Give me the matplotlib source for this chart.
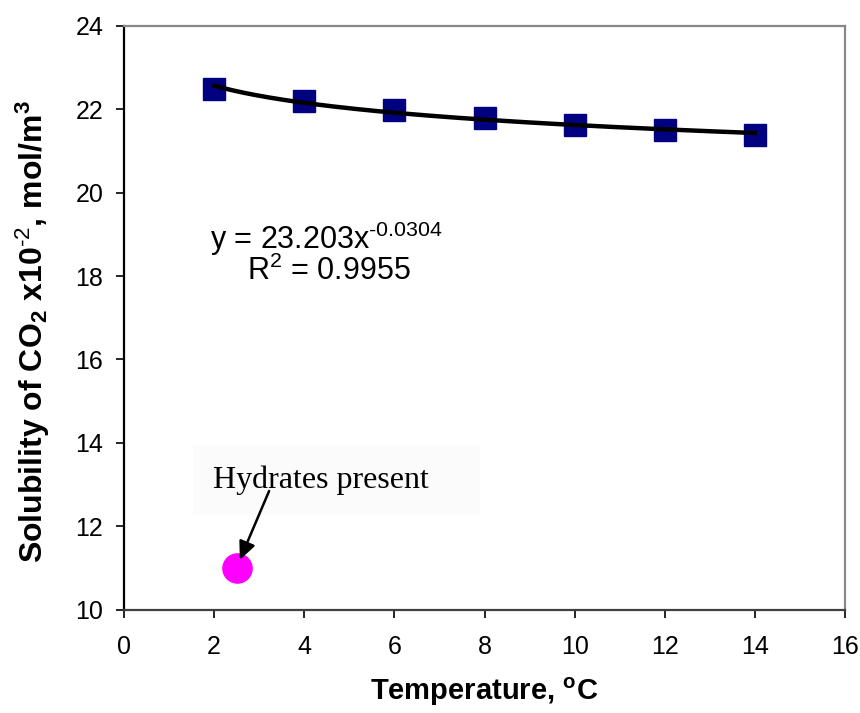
import numpy as np
import matplotlib
matplotlib.use("Agg")
import matplotlib.pyplot as plt
from matplotlib.patches import Rectangle

plt.rcParams["font.family"] = ["Liberation Sans", "DejaVu Sans"]
plt.rcParams["mathtext.fontset"] = "custom"
plt.rcParams["mathtext.rm"] = "Liberation Sans"
plt.rcParams["mathtext.bf"] = "Liberation Sans:bold"
plt.rcParams["mathtext.default"] = "regular"

# measured solubility (x10^-2 mol/m3) against temperature
temperature = [2, 4, 6, 8, 10, 12, 14]
solubility = [22.49, 22.20, 21.97, 21.78, 21.62, 21.49, 21.37]

# single point where hydrates formed
hydrate_t = [2.5]
hydrate_s = [11.0]

x_ticks = [0, 2, 4, 6, 8, 10, 12, 14, 16]
y_ticks = [10, 12, 14, 16, 18, 20, 22, 24]

fig = plt.figure(figsize=(8.6, 7.13), dpi=100)
ax = fig.add_axes([0.1442, 0.1445, 0.8384, 0.8197])

# power-law trend line fitted in log space
b, ln_a = np.polyfit(np.log(temperature), np.log(solubility), 1)
xs = np.linspace(min(temperature), max(temperature), 200)
ax.plot(xs, np.exp(ln_a) * xs ** b, color="black", lw=3.2, zorder=3)

ax.plot(temperature, solubility, "s", color="#000080", ms=16, zorder=2)
ax.plot(hydrate_t, hydrate_s, "o", color="#ff00ff", ms=21, zorder=2)

ax.text(4.5, 18.88, r"y = 23.203x$^{\text{-0.0304}}$", fontsize=22,
        ha="center", va="center")
ax.text(4.55, 18.1, r"R$^{2}$ = 0.9955", fontsize=22, ha="center", va="center")

# faint panel behind the hydrate note
ax.add_patch(Rectangle((0.0957, 0.162), 0.398, 0.12, transform=ax.transAxes,
                       fc="#fbfbfb", ec="none", zorder=0))
ax.text(4.38, 13.1, "Hydrates present", fontsize=23, family=["Liberation Serif"],
        ha="center", va="center")
ax.annotate("", xy=(2.57, 11.2), xytext=(3.22, 12.85),
            arrowprops=dict(arrowstyle="-|>,head_length=1.1,head_width=0.5",
                            color="black", lw=1.8, shrinkA=0, shrinkB=0))

ax.set_xlim(0, 16)
ax.set_ylim(10, 24)
ax.set_xticks(x_ticks)
ax.set_yticks(y_ticks)
ax.tick_params(direction="out", length=6, width=1.2, labelsize=18)
ax.tick_params(axis="x", pad=12)
ax.tick_params(axis="y", pad=9)

ax.spines["left"].set_color("black")
ax.spines["bottom"].set_color("#404040")
ax.spines["top"].set_color("#888888")
ax.spines["right"].set_color("#888888")
for s in ax.spines.values():
    s.set_linewidth(1.6)

ax.set_xlabel(r"Temperature, $^{o}$C", fontsize=21, fontweight="bold", labelpad=12)
ax.set_ylabel(r"Solubility of CO$_{2}$ x10$^{\text{-2}}$, mol/m$^{3}$", fontsize=23,
              fontweight="bold")
ax.yaxis.set_label_coords(-0.1, 0.476)

fig.savefig("out.png", dpi=100)
